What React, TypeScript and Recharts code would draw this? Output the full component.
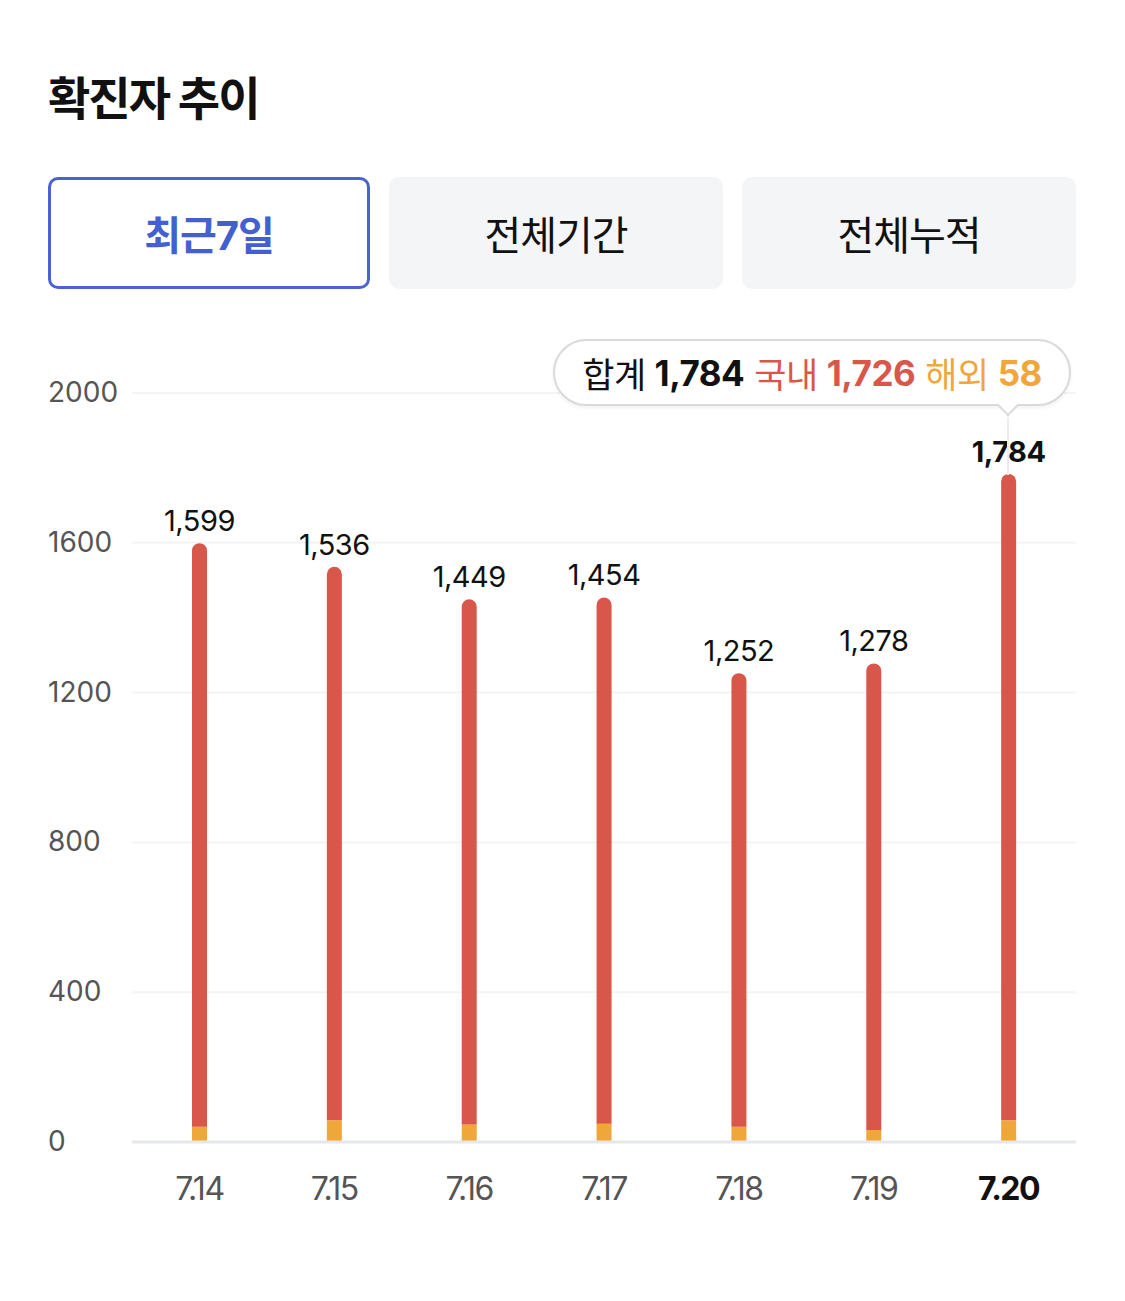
import React from "react";
import { BarChart, Bar, XAxis, YAxis, CartesianGrid, Tooltip, LabelList } from "recharts";

const dates = ["7.14", "7.15", "7.16", "7.17", "7.18", "7.19", "7.20"];
const totals = [1599, 1536, 1449, 1454, 1252, 1278, 1784];
const overseas = [41, 58, 47, 49, 41, 32, 58];
const yTicks = [0, 400, 800, 1200, 1600, 2000];
const tabs = ["최근7일", "전체기간", "전체누적"];

const FONT = "Inter, 'Noto Sans CJK KR', sans-serif";
const RED = "#d9574a";
const ORANGE = "#f0a73a";

const data = dates.map((d, i) => ({
    date: d,
    total: totals[i],
    overseas: overseas[i],
    domestic: totals[i] - overseas[i],
}));
const lastIdx = data.length - 1;

const fmt = (v: number) => v.toLocaleString("en-US");

const YTick = (props: any) => {
    const { y, payload } = props;
    return (
        <text x={48} y={y} dy={9} fill="#555" fontSize={28} fontFamily={FONT} textAnchor="start">
            {payload.value}
        </text>
    );
};

const XTick = (props: any) => {
    const { x, y, payload, index } = props;
    const last = index === lastIdx;
    return (
        <text x={x} y={y + 50} fill={last ? "#111" : "#555"} fontSize={32} fontWeight={last ? 700 : 400}
            fontFamily={FONT} textAnchor="middle" letterSpacing={-1.5}>
            {payload.value}
        </text>
    );
};

const TotalLabel = (props: any) => {
    const { x, y, width, index } = props;
    const last = index === lastIdx;
    return (
        <text x={x + width / 2} y={y - 12} fill="#111" fontSize={29} fontWeight={last ? 700 : 400}
            fontFamily={FONT} textAnchor="middle" letterSpacing={-0.5}>
            {fmt(totals[index])}
        </text>
    );
};

const TipContent = () => {
    const d = data[lastIdx];
    return (
        <div style={{ position: "relative", width: 518, height: 140, fontFamily: FONT }}>
            <div style={{
                position: "absolute", left: 0, top: 0, width: 514, height: 63, borderRadius: 34,
                border: "2px solid #dadada", background: "#fff", boxShadow: "0 2px 4px rgba(0,0,0,0.06)",
                display: "flex", alignItems: "center", justifyContent: "center", fontSize: 35, whiteSpace: "nowrap",
                letterSpacing: -0.5,
            }}>
                <span style={{ color: "#111" }}>합계 </span>
                <b style={{ color: "#111", marginLeft: 9 }}>{fmt(d.total)}</b>
                <span style={{ color: RED, marginLeft: 10 }}>국내 </span>
                <b style={{ color: RED, marginLeft: 9 }}>{fmt(d.domestic)}</b>
                <span style={{ color: ORANGE, marginLeft: 10 }}>해외 </span>
                <b style={{ color: ORANGE, marginLeft: 9 }}>{d.overseas}</b>
            </div>
            {/* pointer */}
            <div style={{
                position: "absolute", left: 447, top: 58, width: 14, height: 14, background: "#fff",
                borderRight: "2px solid #dadada", borderBottom: "2px solid #dadada", transform: "rotate(45deg)",
            }} />
            <div style={{ position: "absolute", left: 454, top: 78, width: 2, height: 58, background: "#ececec" }} />
        </div>
    );
};

export default function App() {
    return (
        <div style={{ position: "relative", width: 1125, height: 1301, background: "#fff", fontFamily: FONT }}>
            <style>{`body{margin:0}`}</style>
            <div style={{ position: "absolute", left: 48, top: 62, fontSize: 46, fontWeight: 700, color: "#111", letterSpacing: -2 }}>
                확진자 추이
            </div>
            {tabs.map((t, i) => {
                const lefts = [48, 389, 742];
                const widths = [322, 334, 334];
                const active = i === 0;
                return (
                    <div key={t} style={{
                        position: "absolute", left: lefts[i], top: 177, width: widths[i], height: 112,
                        boxSizing: "border-box", borderRadius: 10,
                        border: active ? "3px solid #4a63d0" : "none",
                        background: active ? "#fff" : "#f4f5f7",
                        display: "flex", alignItems: "center", justifyContent: "center",
                        fontSize: 40, fontWeight: active ? 700 : 400, color: active ? "#4460d0" : "#111",
                        letterSpacing: -1,
                    }}>
                        {t}
                    </div>
                );
            })}
            <div style={{ position: "absolute", left: 0, top: 0 }}>
                <BarChart width={1125} height={1301} data={data}
                    margin={{ top: 393, right: 49, bottom: 99, left: 0 }} barSize={15}>
                    <CartesianGrid vertical={false} stroke="#f4f4f4" strokeWidth={2} />
                    <XAxis dataKey="date" axisLine={{ stroke: "#e6e7ea", strokeWidth: 3 }} tickLine={false}
                        tick={<XTick />} height={60} interval={0} />
                    <YAxis domain={[0, 2000]} ticks={yTicks} axisLine={false} tickLine={false}
                        tick={<YTick />} width={132} />
                    <Tooltip active={true} defaultIndex={lastIdx} cursor={false} position={{ x: 553, y: 339 }}
                        content={<TipContent />} wrapperStyle={{ outline: "none" }} isAnimationActive={false} />
                    <Bar dataKey="overseas" stackId="a" fill={ORANGE} isAnimationActive={false} />
                    <Bar dataKey="domestic" stackId="a" fill={RED} radius={[8, 8, 0, 0]} isAnimationActive={false}>
                        <LabelList dataKey="domestic" content={<TotalLabel />} />
                    </Bar>
                </BarChart>
            </div>
        </div>
    );
}
